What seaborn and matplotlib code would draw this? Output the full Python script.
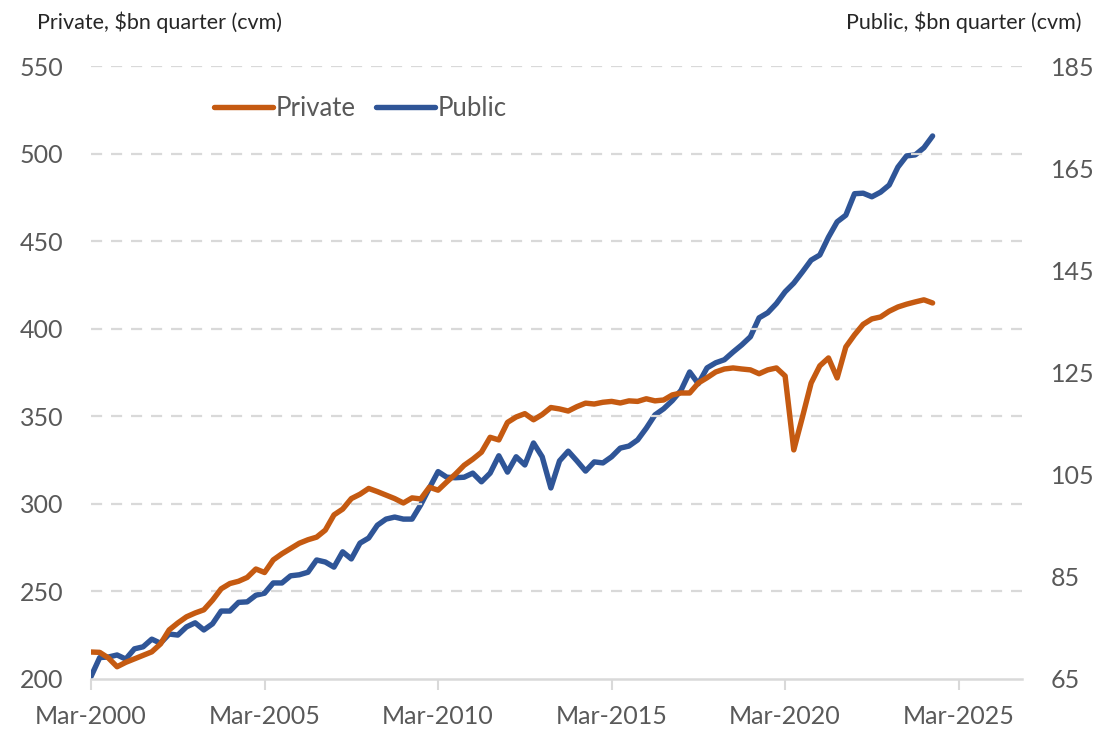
import numpy as np
import pandas as pd
import matplotlib
matplotlib.use("Agg")
import matplotlib.pyplot as plt
import seaborn as sns

# Quarterly data, Mar-2000 .. Jun-2024
private = [215.4, 215.2, 212.0, 207.0, 209.5, 211.5, 213.5, 215.5, 220.0, 228.0,
           232.0, 235.5, 237.7, 239.5, 245.0, 251.5, 254.5, 255.8, 258.0, 262.8,
           260.8, 268.0, 271.5, 274.5, 277.5, 279.5, 281.0, 285.0, 293.7, 297.0,
           303.0, 305.5, 308.8, 307.0, 305.0, 303.0, 300.5, 303.4, 302.8, 309.5,
           307.8, 312.5, 317.0, 322.0, 325.5, 329.5, 338.0, 336.5, 346.5, 349.6,
           351.5, 348.0, 351.0, 355.0, 354.2, 353.0, 355.5, 357.5, 357.0, 358.0,
           358.5, 357.6, 358.8, 358.5, 360.0, 358.8, 359.3, 362.2, 363.3, 363.3,
           369.0, 372.0, 375.3, 377.0, 377.6, 377.0, 376.5, 374.3, 376.5, 377.6,
           373.0, 330.8, 349.6, 369.0, 378.8, 383.3, 371.9, 389.6, 396.5, 402.5,
           405.6, 406.7, 410.0, 412.4, 414.0, 415.3, 416.5, 414.7]
public = [65.5, 69.2, 69.3, 69.7, 68.9, 70.9, 71.3, 72.8, 72.0, 73.8,
          73.6, 75.2, 76.0, 74.6, 75.8, 78.3, 78.3, 80.0, 80.1, 81.4,
          81.8, 83.8, 83.8, 85.2, 85.4, 85.9, 88.3, 87.9, 86.9, 89.9,
          88.5, 91.6, 92.6, 95.1, 96.3, 96.7, 96.3, 96.3, 99.1, 102.4,
          105.6, 104.5, 104.4, 104.5, 105.3, 103.6, 105.3, 108.7, 105.5, 108.5,
          106.9, 111.2, 108.5, 102.4, 107.7, 109.6, 107.7, 105.7, 107.5, 107.3,
          108.5, 110.2, 110.6, 111.8, 114.1, 116.7, 117.9, 119.5, 121.5, 125.1,
          122.8, 125.9, 126.9, 127.5, 129.0, 130.4, 132.0, 135.7, 136.7, 138.5,
          140.8, 142.5, 144.7, 147.0, 148.0, 151.5, 154.5, 155.8, 160.0, 160.1,
          159.4, 160.3, 161.7, 165.2, 167.4, 167.6, 169.0, 171.3]
x_tick_labels = ["Mar-2000", "Mar-2005", "Mar-2010", "Mar-2015", "Mar-2020", "Mar-2025"]
left_ticks = [200, 250, 300, 350, 400, 450, 500, 550]
right_ticks = [65, 85, 105, 125, 145, 165, 185]

df = pd.DataFrame({"q": np.arange(len(private)), "Private": private, "Public": public})

sns.set_style("white")
plt.rcParams["font.family"] = ["Lato", "DejaVu Sans"]

ORANGE = "#c55a11"
BLUE = "#2f5597"
GRID = "#d9d9d9"
TICKC = "#595959"

fig = plt.figure(figsize=(11.01, 7.35), dpi=100)
ax = fig.add_axes([0.0827, 0.0762, 0.8455, 0.834])
ax2 = ax.twinx()

sns.lineplot(data=df, x="q", y="Private", ax=ax, color=ORANGE, lw=3.9, label="Private", legend=False)
sns.lineplot(data=df, x="q", y="Public", ax=ax2, color=BLUE, lw=3.9, label="Public", legend=False)
for l in ax.lines + ax2.lines:
    l.set_solid_capstyle("round")
    l.set_solid_joinstyle("round")

ax.set_xlim(0, 107.3)
ax.set_ylim(200, 550)
ax2.set_ylim(65, 185)
ax.set_yticks(left_ticks)
ax2.set_yticks(right_ticks)
ax.set_xticks(np.arange(len(x_tick_labels)) * 20)
ax.set_xticklabels(x_tick_labels)

for g in left_ticks[1:]:
    ax.axhline(g, color=GRID, lw=1.6, ls=(0, (5, 4)), zorder=0)

for a in (ax, ax2):
    for s in ("top", "left", "right", "bottom"):
        a.spines[s].set_visible(False)
ax.spines["bottom"].set_visible(True)
ax.spines["bottom"].set_color(GRID)
ax.spines["bottom"].set_linewidth(1.8)

ax.tick_params(axis="y", length=0, pad=20, labelsize=18, labelcolor=TICKC)
ax2.tick_params(axis="y", length=0, pad=21, labelsize=18, labelcolor=TICKC)
ax.tick_params(axis="x", length=8, width=1.5, color=GRID, direction="out", pad=11,
               labelsize=18, labelcolor=TICKC, bottom=True)
ax.set_xlabel("")
ax.set_ylabel("")
ax2.set_ylabel("")
ax.set_zorder(ax2.get_zorder() + 1)
ax.patch.set_visible(False)

fig.text(37 / 1101, 1 - 22 / 735, "Private, $bn quarter (cvm)", ha="left", va="center",
         fontsize=15.5, color="#262626")
fig.text(1081 / 1101, 1 - 22 / 735, "Public, $bn quarter (cvm)", ha="right", va="center",
         fontsize=15.5, color="#262626")

h1, l1 = ax.get_legend_handles_labels()
h2, l2 = ax2.get_legend_handles_labels()
leg = ax.legend(h1 + h2, l1 + l2, loc="center left", bbox_to_anchor=(0.107, 0.931),
                frameon=False, ncol=2, fontsize=18.5, handlelength=2.3, handletextpad=0.1,
                columnspacing=0.8, labelcolor=TICKC)

fig.savefig("out.png", dpi=100)
